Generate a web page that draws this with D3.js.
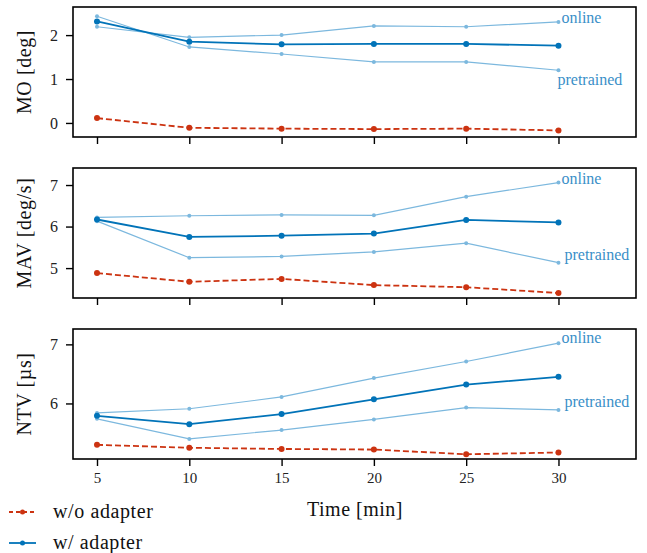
<!DOCTYPE html>
<html>
<head>
<meta charset="utf-8">
<script src="https://cdn.jsdelivr.net/npm/d3@7"></script>
<style>
  body { margin: 0; background: #fff; }
  svg text { font-family: "Liberation Serif", "Times New Roman", serif; }
</style>
</head>
<body>
<svg width="647" height="553"></svg>
<script>
  // DATA
  const times = [5, 10, 15, 20, 25, 30];
  const xTicks = [5, 10, 15, 20, 25, 30];

  const moNoAdapter = [0.11, -0.11, -0.13, -0.14, -0.13, -0.17];
  const moAdapter = [2.31, 1.85, 1.79, 1.80, 1.80, 1.76];
  const moOnline = [2.19, 1.95, 2.00, 2.21, 2.19, 2.30];
  const moPretrained = [2.43, 1.73, 1.57, 1.39, 1.39, 1.20];

  const mavNoAdapter = [4.88, 4.67, 4.74, 4.59, 4.54, 4.40];
  const mavAdapter = [6.17, 5.75, 5.78, 5.83, 6.16, 6.10];
  const mavOnline = [6.22, 6.26, 6.28, 6.27, 6.72, 7.06];
  const mavPretrained = [6.13, 5.25, 5.28, 5.39, 5.60, 5.13];

  const ntvNoAdapter = [5.30, 5.25, 5.23, 5.22, 5.14, 5.17];
  const ntvAdapter = [5.79, 5.65, 5.82, 6.07, 6.32, 6.45];
  const ntvOnline = [5.84, 5.91, 6.11, 6.43, 6.71, 7.02];
  const ntvPretrained = [5.74, 5.40, 5.55, 5.73, 5.93, 5.89];

  const panels = [
    { label: "MO [deg]", domain: [-0.32, 2.64], ticks: [0, 1, 2],
      noAdapter: moNoAdapter, adapter: moAdapter, online: moOnline, pretrained: moPretrained,
      onlineOff: [3, 1], pretrainedOff: [-1, 15] },
    { label: "MAV [deg/s]", domain: [4.28, 7.41], ticks: [5, 6, 7],
      noAdapter: mavNoAdapter, adapter: mavAdapter, online: mavOnline, pretrained: mavPretrained,
      onlineOff: [3, 1], pretrainedOff: [6, -3] },
    { label: "NTV [µs]", domain: [5.06, 7.26], ticks: [6, 7],
      noAdapter: ntvNoAdapter, adapter: ntvAdapter, online: ntvOnline, pretrained: ntvPretrained,
      onlineOff: [3, 0], pretrainedOff: [6, -3] }
  ];

  // LAYOUT
  const svg = d3.select("svg");
  const left = 73, right = 636;
  const panelTops = [7, 168, 329];
  const panelH = 130;
  const serif = "Liberation Serif, Times New Roman, serif";

  const red = "#cc3311";
  const blue = "#0173b8";
  const lightBlue = "#7cb8de";
  const labelBlue = "#3a8fc8";

  const xScale = d3.scaleLinear().domain([3.7, 34.2]).range([left, right]);

  panels.forEach((p, i) => {
    const top = panelTops[i];
    const yScale = d3.scaleLinear().domain(p.domain).range([top + panelH, top]);
    const g = svg.append("g");

    // frame
    g.append("rect")
      .attr("x", left).attr("y", top)
      .attr("width", right - left).attr("height", panelH)
      .attr("fill", "none").attr("stroke", "#000").attr("stroke-width", 1.6);

    // x axis
    const xAxis = d3.axisBottom(xScale).tickValues(xTicks)
      .tickSize(7).tickPadding(6)
      .tickFormat(i === 2 ? d3.format("d") : () => "");
    const xg = g.append("g").attr("transform", `translate(0,${top + panelH})`).call(xAxis);
    xg.attr("font-family", serif);
    xg.select(".domain").remove();
    xg.selectAll(".tick line").attr("stroke-width", 1.4);
    xg.selectAll(".tick text").attr("font-size", 15).attr("fill", "#222");

    // y axis
    const yAxis = d3.axisLeft(yScale).tickValues(p.ticks).tickSize(7).tickPadding(8)
      .tickFormat(d3.format("d"));
    const yg = g.append("g").attr("transform", `translate(${left},0)`).call(yAxis);
    yg.attr("font-family", serif);
    yg.select(".domain").remove();
    yg.selectAll(".tick line").attr("stroke-width", 1.4);
    yg.selectAll(".tick text").attr("font-size", 16).attr("fill", "#222");

    // y label
    g.append("text")
      .attr("transform", `translate(31,${top + panelH / 2}) rotate(-90)`)
      .attr("text-anchor", "middle")
      .attr("font-family", serif)
      .attr("font-size", 20)
      .attr("letter-spacing", 0.6)
      .attr("fill", "#111")
      .text(p.label);

    const line = d3.line().x((d, j) => xScale(times[j])).y(d => yScale(d));

    const series = [
      { values: p.online, color: lightBlue, width: 1.2, r: 2 },
      { values: p.pretrained, color: lightBlue, width: 1.2, r: 2 },
      { values: p.adapter, color: blue, width: 1.8, r: 3 },
      { values: p.noAdapter, color: red, width: 1.8, r: 3, dash: "6,3" }
    ];

    series.forEach(s => {
      g.append("path").datum(s.values)
        .attr("d", line)
        .attr("fill", "none")
        .attr("stroke", s.color)
        .attr("stroke-width", s.width)
        .attr("stroke-dasharray", s.dash || null);
      g.selectAll(null).data(s.values).enter().append("circle")
        .attr("cx", (d, j) => xScale(times[j]))
        .attr("cy", d => yScale(d))
        .attr("r", s.r)
        .attr("fill", s.color);
    });

    // end labels
    const last = times.length - 1;
    g.append("text")
      .attr("x", xScale(times[last]) + p.onlineOff[0])
      .attr("y", yScale(p.online[last]) + p.onlineOff[1])
      .attr("font-family", serif)
      .attr("font-size", 16).attr("fill", labelBlue)
      .text("online");
    g.append("text")
      .attr("x", xScale(times[last]) + p.pretrainedOff[0])
      .attr("y", yScale(p.pretrained[last]) + p.pretrainedOff[1])
      .attr("font-family", serif)
      .attr("font-size", 16).attr("fill", labelBlue)
      .text("pretrained");
  });

  // x label
  svg.append("text")
    .attr("x", 355).attr("y", 516)
    .attr("text-anchor", "middle")
    .attr("font-family", serif)
    .attr("font-size", 20).attr("letter-spacing", 0.5).attr("fill", "#111")
    .text("Time [min]");

  // legend
  const legendItems = [
    { label: "w/o adapter", color: red, dash: "4,3" },
    { label: "w/ adapter", color: blue, dash: null }
  ];
  const legend = svg.append("g");
  legendItems.forEach((item, i) => {
    const y = 512 + i * 31;
    legend.append("line")
      .attr("x1", 9).attr("x2", 36).attr("y1", y).attr("y2", y)
      .attr("stroke", item.color).attr("stroke-width", 1.8)
      .attr("stroke-dasharray", item.dash);
    legend.append("circle").attr("cx", 22.5).attr("cy", y).attr("r", 2.5).attr("fill", item.color);
    legend.append("text")
      .attr("x", 53).attr("y", y + 6)
      .attr("font-family", serif)
      .attr("font-size", 20).attr("letter-spacing", 0.6).attr("fill", "#111")
      .text(item.label);
  });
</script>
</body>
</html>
